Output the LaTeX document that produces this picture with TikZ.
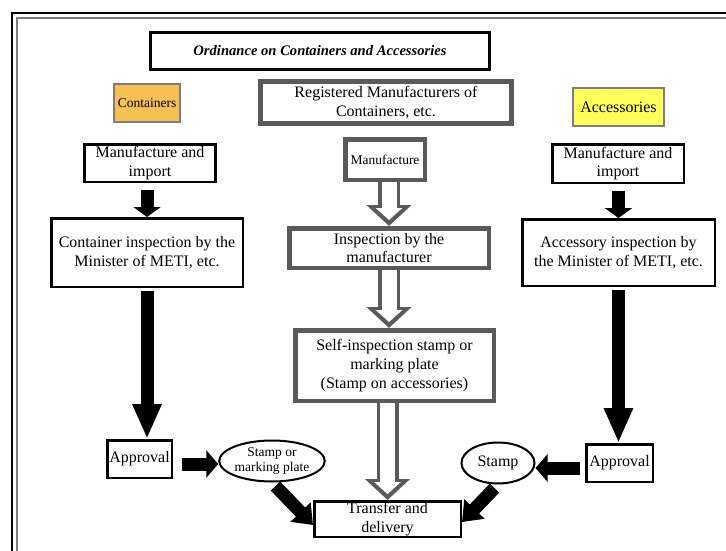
\documentclass[tikz,border=0pt]{standalone}
\usepackage{fontspec}
\setmainfont{Liberation Serif}
\usetikzlibrary{arrows.meta,shapes.geometric}
\definecolor{boxgray}{RGB}{90,90,90}
\definecolor{taggray}{RGB}{125,125,125}
\definecolor{containerorange}{RGB}{246,192,84}
\definecolor{accessoryyellow}{RGB}{255,255,92}

\begin{document}
\begin{tikzpicture}[x=1pt, y=-1pt,
    box/.style={draw=black, line width=2.5pt, fill=white, align=center, inner sep=0pt, font=\fontsize{16}{18.7}\selectfont},
    graybox/.style={box, draw=boxgray, line width=4.5pt},
    tagbox/.style={box, draw=taggray, line width=2pt},
    oval/.style={box, ellipse, line width=2pt},
    small/.style={font=\fontsize{13.5}{15.5}\selectfont},
    blk/.style={line width=13pt, -{Triangle[width=27pt,length=#1]}},
    blk/.default=12pt,
    hollow/.style={white, line width=15pt, shorten >=6pt, -{Triangle[width=26pt,length=12pt]},
        preaction={draw=boxgray, line width=22pt, shorten >=0pt, -{Triangle[width=44pt,length=21pt]}}}]

    % Fix the page size
    \useasboundingbox (0,0) rectangle (726,551);

    % Draw the double frame
    \begin{scope}
        \clip (0,0) rectangle (726,551);
        \draw[line width=2pt] (12,13) rectangle (760,590);
        \draw[taggray, line width=1.5pt] (17,18) rectangle (755,585);
    \end{scope}

    % Draw the title
    \node[box, line width=3pt, minimum width=339pt, minimum height=37pt, font=\fontsize{14.6}{16}\selectfont\bfseries\itshape] (title) at (320,51) {Ordinance on Containers and Accessories};

    % Draw the three headings
    \node[tagbox, small, fill=containerorange, minimum width=66pt, minimum height=38pt] (containers) at (147,103) {Containers};
    \node[graybox, minimum width=251pt, minimum height=42pt] (registered) at (386,102.5) {Registered Manufacturers of\\Containers, etc.};
    \node[tagbox, fill=accessoryyellow, minimum width=91pt, minimum height=38pt] (accessories) at (618.5,107) {Accessories};

    % Draw the containers column
    \node[box, minimum width=131pt, minimum height=37.5pt] (make_left) at (150,163) {Manufacture and\\import};
    \node[box, minimum width=191.5pt, minimum height=68.5pt] (insp_left) at (147,252.5) {Container inspection by the\\Minister of METI, etc.};
    \node[box, minimum width=64.5pt, minimum height=37.5pt] (appr_left) at (139.5,459) {Approval};
    \node[oval, small, minimum width=97pt, minimum height=41pt] (stamp_left) at (272,461) {Stamp or\\marking plate};

    % Draw the registered manufacturers column
    \node[graybox, small, minimum width=79.5pt, minimum height=40.5pt] (make_mid) at (385,159.5) {Manufacture};
    \node[graybox, minimum width=199.5pt, minimum height=39.5pt] (insp_mid) at (389,248) {Inspection by the\\manufacturer};
    \node[graybox, minimum width=198.5pt, minimum height=70.5pt] (self_insp) at (394.5,365.5) {Self-inspection stamp or\\marking plate\\(Stamp on accessories)};
    \node[box, minimum width=146.5pt, minimum height=35.5pt] (transfer) at (387.5,519) {Transfer and\\delivery};

    % Draw the accessories column
    \node[box, minimum width=131.5pt, minimum height=38.5pt] (make_right) at (618,163.5) {Manufacture and\\import};
    \node[box, minimum width=192.5pt, minimum height=66.5pt] (insp_right) at (618.5,252.5) {Accessory inspection by\\the Minister of METI, etc.};
    \node[box, minimum width=66.5pt, minimum height=37.5pt] (appr_right) at (619.5,463) {Approval};
    \node[oval, minimum width=73pt, minimum height=41pt] (stamp_right) at (498,463) {Stamp};

    % Draw the black arrows
    \draw[blk=10pt, shorten <=7pt] (make_left.south -| insp_left.north) -- (insp_left.north);
    \draw[blk=35pt, shorten <=3pt] (insp_left.south) -- (insp_left.south |- appr_left.north);
    \draw[blk, shorten <=9pt] ([yshift=-5pt]appr_left.east) -- ([yshift=-5pt]appr_left.east -| stamp_left.west);
    \draw[blk=18pt, shorten <=5pt] (stamp_left.south) -- ([yshift=-6pt]transfer.west);
    \draw[blk=10pt, shorten <=7pt] (make_right.south -| insp_right.north) -- (insp_right.north);
    \draw[blk=35pt, shorten <=3pt] (insp_right.south) -- (insp_right.south |- appr_right.north);
    \draw[blk, shorten <=5pt] ([yshift=-5pt]appr_right.west) -- ([yshift=-5pt]appr_right.west -| stamp_right.east);
    \draw[blk=18pt, shorten <=5pt] (stamp_right.south) -- ([yshift=-3pt]transfer.east);

    % Draw the hollow arrows
    \draw[hollow] (insp_mid.north |- make_mid.south) -- (insp_mid.north);
    \draw[hollow] (insp_mid.south) -- (insp_mid.south |- self_insp.north);
    \draw[hollow] (transfer.north |- self_insp.south) -- (transfer.north);
\end{tikzpicture}
\end{document}
